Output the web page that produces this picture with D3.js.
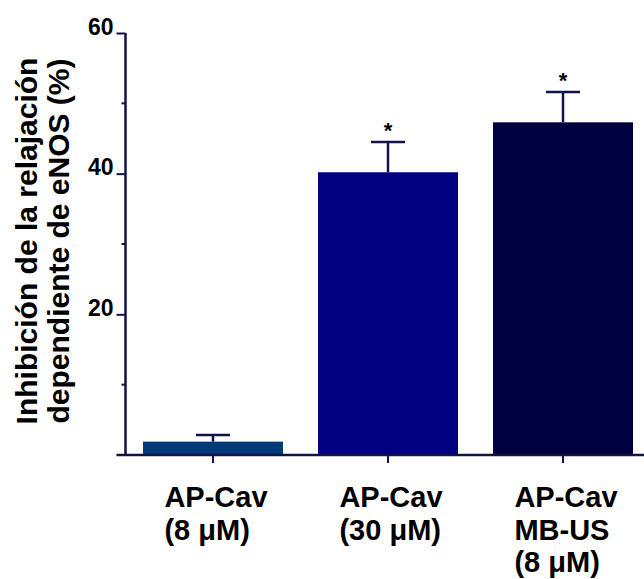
<!DOCTYPE html>
<html>
<head>
<meta charset="utf-8">
<script src="https://cdn.jsdelivr.net/npm/d3@7"></script>
<style>
  html, body { margin: 0; padding: 0; background: #fff; }
  svg { display: block; font-family: "Liberation Sans", Arial, sans-serif; }
</style>
</head>
<body>
<svg id="chart" width="644" height="579"></svg>
<script>
// ---- data ----
const categories = ["AP-Cav (8 μM)", "AP-Cav (30 μM)", "AP-Cav MB-US (8 μM)"];
const labelLines = [["AP-Cav", "(8 μM)"], ["AP-Cav", "(30 μM)"], ["AP-Cav", "MB-US", "(8 μM)"]];
const means = [1.9, 40.2, 47.3];
const errors = [0.95, 4.3, 4.3];
const significant = [false, true, true];
const barColors = ["#003a78", "#000080", "#000040"];
const majorTicks = [20, 40, 60];
const minorTicks = [10, 30, 50];
const yTitleLines = ["Inhibición de la relajación", "dependiente de eNOS (%)"];

// ---- layout ----
const svg = d3.select("#chart");
const axisColor = "#12124a";
const x0 = 125.5, yBottom = 455, yTop = 33;

const x = d3.scaleBand().domain(categories).range([x0, x0 + 525])
  .paddingInner(0.2).paddingOuter(0.1);
const y = d3.scaleLinear().domain([0, 60]).range([yBottom, yTop]);

// bars
svg.selectAll("rect.bar").data(categories).join("rect")
  .attr("class", "bar")
  .attr("x", d => x(d))
  .attr("width", x.bandwidth())
  .attr("y", (d, i) => y(means[i]))
  .attr("height", (d, i) => y(0) - y(means[i]))
  .attr("fill", (d, i) => barColors[i]);

// error bars (upper only)
const capW = 34;
const eb = svg.append("g").attr("stroke", axisColor).attr("stroke-width", 2.5);
categories.forEach((c, i) => {
  const cx = x(c) + x.bandwidth() / 2;
  eb.append("line").attr("x1", cx).attr("x2", cx)
    .attr("y1", y(means[i])).attr("y2", y(means[i] + errors[i]));
  eb.append("line").attr("x1", cx - capW / 2).attr("x2", cx + capW / 2)
    .attr("y1", y(means[i] + errors[i])).attr("y2", y(means[i] + errors[i]));
  if (significant[i]) {
    svg.append("text").attr("x", cx).attr("y", y(means[i] + errors[i]) - 4)
      .attr("text-anchor", "middle").attr("font-size", 22).attr("font-weight", "bold")
      .attr("fill", "#000").text("*");
  }
});

// y axis
const yAxisG = svg.append("g").attr("transform", `translate(${x0},0)`);
yAxisG.call(d3.axisLeft(y).tickValues(majorTicks).tickSize(9).tickSizeOuter(0).tickFormat(d3.format("d")));
yAxisG.select(".domain").remove();
yAxisG.append("line").attr("x1", 0).attr("x2", 0).attr("y1", y(60)).attr("y2", y(0))
  .attr("stroke", axisColor).attr("stroke-width", 2.5);
yAxisG.selectAll(".tick line").attr("stroke", axisColor).attr("stroke-width", 2);
yAxisG.selectAll(".tick text")
  .attr("font-size", 23).attr("font-weight", "bold").attr("fill", "#000")
  .attr("font-family", "Liberation Sans, Arial, sans-serif")
  .attr("x", -12).attr("dy", "0.05em");
yAxisG.selectAll("line.minor").data(minorTicks).join("line")
  .attr("class", "minor")
  .attr("x1", -4).attr("x2", 0).attr("y1", d => y(d)).attr("y2", d => y(d))
  .attr("stroke", axisColor).attr("stroke-width", 2);

// x axis line + ticks
svg.append("line").attr("x1", x0 - 9).attr("x2", 644).attr("y1", yBottom).attr("y2", yBottom)
  .attr("stroke", axisColor).attr("stroke-width", 2.5);
svg.selectAll("line.xtick").data(categories).join("line")
  .attr("class", "xtick")
  .attr("x1", d => x(d) + x.bandwidth() / 2).attr("x2", d => x(d) + x.bandwidth() / 2)
  .attr("y1", yBottom).attr("y2", yBottom + 8)
  .attr("stroke", axisColor).attr("stroke-width", 2);

// category labels (left-aligned block, first line centred on the bar)
categories.forEach((c, i) => {
  const cx = x(c) + x.bandwidth() / 2;
  const g = svg.append("g");
  const texts = labelLines[i].map((t, k) =>
    g.append("text").attr("y", 507 + k * 32.5)
      .attr("font-size", 29).attr("font-weight", "bold").attr("fill", "#000").text(t));
  const w = texts[0].node().getComputedTextLength();
  texts.forEach(t => t.attr("x", cx - w / 2 + 3));
});

// y title
const yt = svg.append("g").attr("transform", "translate(0,241) rotate(-90)");
yTitleLines.forEach((t, k) => {
  yt.append("text").attr("x", 0).attr("y", 37 + k * 32)
    .attr("text-anchor", "middle").attr("font-size", 30).attr("font-weight", "bold")
    .attr("fill", "#000").text(t);
});
</script>
</body>
</html>
